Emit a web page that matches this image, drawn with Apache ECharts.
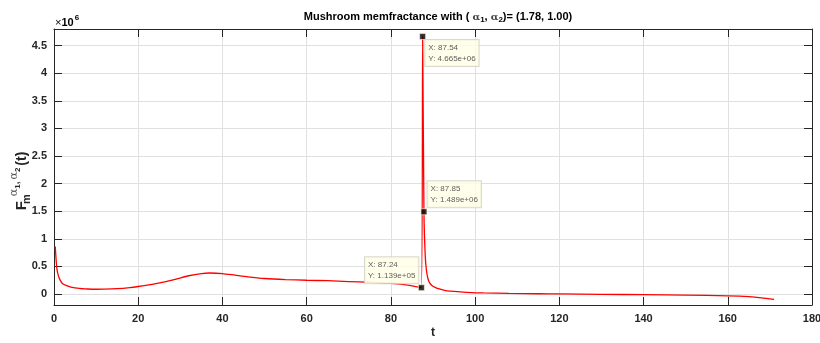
<!DOCTYPE html>
<html>
<head>
<meta charset="utf-8">
<script src="https://cdn.jsdelivr.net/npm/echarts@6/dist/echarts.min.js"></script>
<style>
  html, body { margin: 0; padding: 0; background: #ffffff; }
  #chart { width: 820px; height: 343px; }
</style>
</head>
<body>
<div id="chart"></div>
<script>
// Memfractance samples: time t and F value (raw units, axis shows ×10^6)
const tValues = [
  0.3, 0.5, 0.7, 1.0, 1.4, 2, 3, 4, 6, 8, 10, 12, 15, 18, 20, 23, 26, 29, 32, 35,
  37, 40, 43, 46, 50, 55, 60, 65, 70, 75, 80, 84, 87.24, 87.54, 87.85, 88.15, 88.45,
  88.8, 89.2, 89.8, 90.5, 91.5, 93, 95, 98, 102, 108, 115, 120, 130, 140, 150, 160,
  165, 168, 171
];
const fValues = [
  0.86e6, 0.62e6, 0.45e6, 0.34e6, 0.26e6, 0.19e6, 0.15e6, 0.125e6, 0.10e6, 0.09e6,
  0.085e6, 0.086e6, 0.095e6, 0.115e6, 0.135e6, 0.17e6, 0.215e6, 0.27e6, 0.33e6, 0.37e6,
  0.38e6, 0.37e6, 0.34e6, 0.31e6, 0.28e6, 0.26e6, 0.248e6, 0.24e6, 0.225e6, 0.21e6,
  0.19e6, 0.16e6, 1.139e5, 4.665e6, 1.489e6, 0.70e6, 0.42e6,
  0.28e6, 0.20e6, 0.15e6, 0.12e6, 0.09e6, 0.06e6, 0.045e6, 0.03e6, 0.018e6, 0.01e6, 0.004e6, 0.0, -0.008e6, -0.012e6, -0.02e6, -0.035e6,
  -0.05e6, -0.07e6, -0.10e6
];

// Data tips shown on the curve
const tipT = [87.54, 87.85, 87.24];
const tipF = [4.665e6, 1.489e6, 1.139e5];

// Axis ticks
const xMin = 0, xMax = 180, xStep = 20;
const yMin = -0.2e6, yMax = 4.8e6;
const yTickValues = [0, 0.5e6, 1e6, 1.5e6, 2e6, 2.5e6, 3e6, 3.5e6, 4e6, 4.5e6];

const axisColor = '#262626';
const gridColor = '#e0e0e0';
const font = 'Liberation Sans, Arial, Helvetica, sans-serif';

// label offsets (relative to marker box) for each tip
const tipLabelOffsets = [[6, 7], [7, -27], [-53, -27]];

function expText(v) {
  return v.toExponential(3).replace(/e([+-])(\d)$/, 'e$10$2');
}

const lineData = tValues.map((t, i) => [t, fValues[i]]);
const tipData = tipT.map((t, i) => ({
  value: [t, tipF[i]],
  label: { position: tipLabelOffsets[i] }
}));

const chart = echarts.init(document.getElementById('chart'), null, { renderer: 'canvas' });

const yTickFormatter = v => String(+(v / 1e6).toFixed(1));

chart.setOption({
  animation: false,
  backgroundColor: '#ffffff',
  title: {
    text: '{b|Mushroom memfractance with ( }{a|α}{s|1}{b|, }{a|α}{s|2}{b|)= (1.78, 1.00)}',
    left: 433,
    top: 5,
    textAlign: 'center',
    textStyle: {
      rich: {
        b: { fontFamily: font, fontWeight: 'bold', fontSize: 11, color: '#000', lineHeight: 14, verticalAlign: 'bottom', padding: [0, 0, 2, 0] },
        a: { fontFamily: 'DejaVu Serif, serif', fontSize: 10, color: '#444', lineHeight: 14, verticalAlign: 'bottom', padding: [0, 0, 2, 0] },
        s: { fontFamily: font, fontWeight: 'bold', fontSize: 8, color: '#000', lineHeight: 10, verticalAlign: 'bottom', padding: [0, 0, 0, 0] }
      }
    }
  },
  graphic: [{
    type: 'text',
    left: 55,
    top: 14,
    style: {
      text: '{x|×}{n|10}{e|6}',
      rich: {
        x: { fontFamily: font, fontSize: 11, color: '#777', lineHeight: 14, verticalAlign: 'bottom', padding: [0, 0, 0, 0] },
        n: { fontFamily: font, fontSize: 11, fontWeight: 'bold', color: axisColor, lineHeight: 14, verticalAlign: 'bottom' },
        e: { fontFamily: font, fontSize: 8, fontWeight: 'bold', color: axisColor, lineHeight: 10, verticalAlign: 'bottom', padding: [0, 0, 6, 1] }
      }
    }
  }],
  grid: { left: 54, right: 8, top: 29, bottom: 38, containLabel: false, outerBoundsMode: 'none' },
  xAxis: [{
    type: 'value',
    min: xMin, max: xMax, interval: xStep,
    name: 't',
    nameLocation: 'middle',
    nameGap: 22,
    nameMoveOverlap: false,
    nameTextStyle: { fontFamily: font, fontWeight: 'bold', fontSize: 12, color: axisColor },
    axisLine: { show: true, onZero: false, lineStyle: { color: axisColor, width: 1 } },
    axisTick: { show: true, inside: true, length: 8, lineStyle: { color: axisColor } },
    axisLabel: { fontFamily: font, fontWeight: 'bold', fontSize: 11, color: axisColor, margin: 8 },
    splitLine: { show: true, lineStyle: { color: gridColor, width: 1 } }
  }, {
    type: 'value',
    position: 'top',
    min: xMin, max: xMax, interval: xStep,
    axisLine: { show: true, onZero: false, lineStyle: { color: axisColor, width: 1 } },
    axisTick: { show: true, inside: true, length: 8, lineStyle: { color: axisColor } },
    axisLabel: { show: false },
    splitLine: { show: false }
  }],
  yAxis: [{
    type: 'value',
    min: yMin, max: yMax,
    name: '{F|F}{m|m}{a|α}{s|1}{c|,}{a|α}{s|2}{t|(t)}',
    nameLocation: 'middle',
    nameRotate: 90,
    nameGap: 22,
    nameMoveOverlap: false,
    nameTextStyle: {
      padding: [0, 28, 0, 0],
      rich: {
        F: { fontFamily: font, fontWeight: 'bold', fontSize: 15, color: axisColor, lineHeight: 16, verticalAlign: 'bottom', padding: [0, 1, 3, 0] },
        m: { fontFamily: font, fontWeight: 'bold', fontSize: 11, color: axisColor, lineHeight: 12, verticalAlign: 'bottom', padding: [0, 0, 0, 0], width: 2 },
        a: { fontFamily: 'DejaVu Serif, serif', fontSize: 11, color: '#555', lineHeight: 12, verticalAlign: 'bottom', padding: [0, 0, 12, 2] },
        s: { fontFamily: font, fontWeight: 'bold', fontSize: 8, color: axisColor, lineHeight: 9, verticalAlign: 'bottom', padding: [0, 0, 10, 0] },
        c: { fontFamily: font, fontWeight: 'bold', fontSize: 10, color: axisColor, lineHeight: 11, verticalAlign: 'bottom', padding: [0, 0, 11, 0] },
        t: { fontFamily: font, fontWeight: 'bold', fontSize: 14, color: axisColor, lineHeight: 15, verticalAlign: 'bottom', padding: [0, 0, 3, 2] }
      }
    },
    axisLine: { show: true, onZero: false, lineStyle: { color: axisColor, width: 1 } },
    axisTick: { show: true, inside: true, length: 8, customValues: yTickValues, lineStyle: { color: axisColor } },
    axisLabel: { fontFamily: font, fontWeight: 'bold', fontSize: 11, color: axisColor, margin: 7, customValues: yTickValues, formatter: yTickFormatter },
    splitLine: { show: true, lineStyle: { color: gridColor, width: 1 } }
  }, {
    type: 'value',
    position: 'right',
    min: yMin, max: yMax,
    axisLine: { show: true, onZero: false, lineStyle: { color: axisColor, width: 1 } },
    axisTick: { show: true, inside: true, length: 8, customValues: yTickValues, lineStyle: { color: axisColor } },
    axisLabel: { show: false, customValues: yTickValues },
    splitLine: { show: false }
  }],
  series: [{
    type: 'line',
    data: lineData,
    smooth: 0.25,
    showSymbol: false,
    lineStyle: { color: '#ff0000', width: 1.3 },
    z: 3
  }, {
    type: 'scatter',
    data: tipData,
    symbol: 'rect',
    symbolSize: 6,
    itemStyle: { color: '#000000', borderColor: '#fffbe0', borderWidth: 0.8 },
    label: {
      show: true,
      align: 'left',
      verticalAlign: 'top',
      formatter: p => 'X: ' + p.value[0] + '\nY: ' + expText(p.value[1]),
      fontFamily: font,
      fontSize: 8,
      lineHeight: 11,
      color: '#333',
      backgroundColor: '#ffffe6',
      borderColor: '#d0d0c0',
      borderWidth: 1,
      padding: [2, 3, 2, 3]
    },
    z: 5
  }]
});
</script>
</body>
</html>
